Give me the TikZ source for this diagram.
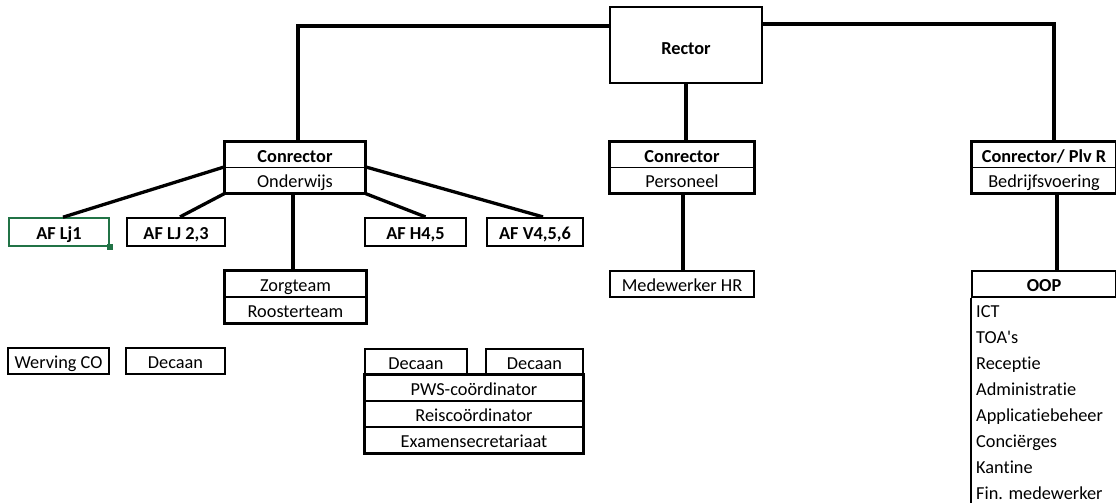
\documentclass[tikz,border=0pt]{standalone}
\usepackage{fontspec}
\setmainfont{Carlito}[Ligatures={NoCommon,TeXOff}]
\usetikzlibrary{calc}
\definecolor{xlgreen}{RGB}{33,115,70}
\begin{document}
\begin{tikzpicture}[x=1pt,y=-1pt,
  every node/.style={font=\fontsize{18.3}{22}\selectfont, inner sep=0pt, text=black, text height=14.6pt, text depth=0pt},
  cell/.style={draw, line width=1.2pt, minimum height=26pt},
  frame/.style={draw, line width=2.1pt},
  bigbox/.style={draw, line width=2.2pt, minimum height=28pt},
  conn/.style={line width=3.3pt},
  item/.style={anchor=west}]
\useasboundingbox (0,0) rectangle (1116,503);

% Rector
\node[draw, line width=2.2pt, minimum width=152pt, minimum height=76pt] (rector) at (686,45) {\raisebox{-2pt}{\textbf{Rector}}};

% Conrector Onderwijs
\node[cell, minimum width=140pt, minimum height=25.5pt] (c1h) at (295,154.75) {\textbf{Conrector}};
\node[cell, minimum width=140pt, minimum height=25.5pt] (c1s) at (295,180.25) {Onderwijs};
\draw[frame] (c1h.north west) rectangle (c1s.south east);

% Conrector Personeel
\node[cell, minimum width=144pt, minimum height=25.5pt] (c2h) at (682,154.75) {\textbf{Conrector}};
\node[cell, minimum width=144pt, minimum height=25.5pt] (c2s) at (682,180.25) {Personeel};
\draw[frame] (c2h.north west) rectangle (c2s.south east);

% Conrector / Plv R
\node[cell, minimum width=144pt, minimum height=25.5pt] (c3h) at (1044,154.75) {\textbf{Conrector/ Plv R}};
\node[cell, minimum width=144pt, minimum height=25.5pt] (c3s) at (1044,180.25) {Bedrijfsvoering};
\draw[frame] (c3h.north west) rectangle (c3s.south east);

% AF boxes
\node[draw=xlgreen, line width=1.6pt, minimum width=100pt, minimum height=28pt] (af1) at (59,232) {\textbf{AF Lj1}};
\fill[xlgreen] ($(af1.south east)+(-3,-3)$) rectangle ++(6,6);
\node[bigbox, minimum width=98pt] (af23) at (176,232) {\textbf{AF LJ 2,3}};
\node[bigbox, minimum width=101pt] (afh) at (415.5,232) {\textbf{AF H4,5}};
\node[bigbox, minimum width=96pt] (afv) at (535,232) {\textbf{AF V4,5,6}};

% Zorgteam / Roosterteam
\node[cell, minimum width=141pt] (zorg) at (295.5,284) {Zorgteam};
\node[cell, minimum width=141pt] (rooster) at (295.5,310) {Roosterteam};
\draw[frame] (zorg.north west) rectangle (rooster.south east);

% Medewerker HR
\node[cell, line width=2.1pt, minimum width=144pt] (hr) at (682,284) {Medewerker HR};

% OOP
\node[cell, line width=2.2pt, minimum width=144pt] (oop) at (1044,284) {\textbf{OOP}};
\draw[line width=2.2pt] (oop.south west) -- (oop.south west |- 0,506);
\node[item] (i1) at (976,310) {ICT};
\node[item] (i2) at (976,336) {TOA's};
\node[item] (i3) at (976,362) {Receptie};
\node[item] (i4) at (976,388) {Administratie};
\node[item] (i5) at (976,414) {Applicatiebeheer};
\node[item] (i6) at (976,440) {Conciërges};
\node[item] (i7) at (976,466) {Kantine};
\node[item] (i8) at (976,492) {Fin. medewerker};

% Werving CO / Decaan
\node[cell, line width=1.8pt, minimum width=101pt] (werv) at (58.5,361) {Werving CO};
\node[cell, line width=1.8pt, minimum width=99pt] (dec0) at (175.5,361) {Decaan};

% Lower middle group
\node[cell, line width=1.8pt, minimum width=102pt] (dec1) at (416,362) {Decaan};
\node[cell, line width=1.8pt, minimum width=97pt] (dec2) at (534.5,362) {Decaan};
\node[cell, minimum width=218pt] (pws) at (474,388) {PWS-coördinator};
\node[cell, minimum width=218pt] (reis) at (474,414) {Reiscoördinator};
\node[cell, minimum width=218pt] (exam) at (474,440) {Examensecretariaat};
\draw[frame] (pws.north west) rectangle (exam.south east);

% Connectors
\draw[conn] ($(rector.north west)+(0,20)$) -| ([xshift=3pt]c1h.north);
\draw[conn] ($(rector.north east)+(0,18)$) -| ([xshift=10pt]c3h.north);
\draw[conn] (rector.south) -- (rector.south |- c2h.north);

\draw[conn] (c1s.north west) -- ([xshift=4pt]af1.north);
\draw[conn] (c1s.south west) -- ([xshift=4pt]af23.north);
\draw[conn] ([xshift=-2pt]c1s.south) -- ([xshift=-2pt]c1s.south |- zorg.north);
\draw[conn] (c1s.south east) -- ([xshift=10pt]afh.north);
\draw[conn] (c1s.north east) -- ([xshift=8pt]afv.north);

\draw[conn] ([xshift=1pt]c2s.south) -- ([xshift=1pt]hr.north);
\draw[conn] ([xshift=13pt]c3s.south) -- ([xshift=13pt]oop.north);
\end{tikzpicture}
\end{document}
